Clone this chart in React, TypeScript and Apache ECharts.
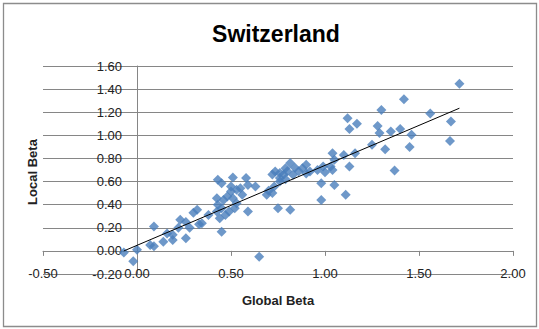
import React, { useEffect, useRef } from "react";
import * as echarts from "echarts";

const TITLE = "Switzerland";
const X_NAME = "Global Beta";
const Y_NAME = "Local Beta";

const GLOBAL_BETA = [
  -0.07, -0.02, 0.0, 0.09, 0.07, 0.09, 0.14, 0.19, 0.19, 0.16, 0.22, 0.23, 0.26, 0.26, 0.28, 0.3, 0.32, 0.345, 0.33, 0.38, 0.45,
  0.43, 0.45, 0.51, 0.58, 0.59, 0.55, 0.5, 0.48, 0.46, 0.51, 0.43, 0.45, 0.52, 0.47, 0.44, 0.59, 0.5, 0.56, 0.53, 0.425, 0.49, 0.425, 0.53, 0.63,
  0.65, 0.69, 0.7, 0.72, 0.73, 0.75, 0.815, 0.735, 0.72, 0.76, 0.76, 0.79, 0.815, 0.83, 0.78, 0.8, 0.84, 0.86, 0.76, 0.79,
  0.88, 0.9, 0.9, 0.92, 0.96, 0.99, 1.0, 1.03, 1.04, 1.05, 1.04, 1.1, 1.16, 1.13, 0.98, 1.05, 0.98, 1.11,
  1.12, 1.13, 1.17, 1.3, 1.42, 1.28, 1.29, 1.35, 1.4, 1.46, 1.45, 1.32, 1.25, 1.37, 1.56, 1.715, 1.67, 1.665,
];
const LOCAL_BETA = [
  -0.015, -0.09, 0.01, 0.21, 0.05, 0.04, 0.08, 0.095, 0.14, 0.15, 0.2, 0.27, 0.25, 0.11, 0.2, 0.33, 0.355, 0.24, 0.23, 0.31, 0.165,
  0.615, 0.586, 0.635, 0.63, 0.571, 0.543, 0.513, 0.47, 0.44, 0.456, 0.4, 0.37, 0.37, 0.31, 0.283, 0.34, 0.557, 0.485, 0.413, 0.34, 0.34, 0.456, 0.53, 0.557,
  -0.05, 0.485, 0.52, 0.5, 0.557, 0.37, 0.355, 0.687, 0.66, 0.63, 0.673, 0.716, 0.76, 0.658, 0.66, 0.69, 0.72, 0.69, 0.6, 0.62,
  0.716, 0.745, 0.67, 0.687, 0.7, 0.73, 0.68, 0.73, 0.7, 0.788, 0.846, 0.83, 0.846, 0.73, 0.586, 0.571, 0.44, 0.485,
  1.147, 1.054, 1.1, 1.22, 1.313, 1.08, 1.02, 1.033, 1.054, 1.004, 0.9, 0.88, 0.918, 0.695, 1.19, 1.446, 1.12, 0.952,
];

// Linear trendline
const TREND_INTERCEPT = 0.048;
const TREND_SLOPE = 0.692;

const X_MIN = -0.5;
const X_MAX = 2.0;
const X_STEP = 0.5;
const Y_MIN = -0.2;
const Y_MAX = 1.6;
const Y_STEP = 0.2;

const FONT = "'Liberation Sans', Arial, sans-serif";

export default function App() {
  const ref = useRef<HTMLDivElement>(null);

  useEffect(() => {
    if (!ref.current) return;
    const chart = echarts.init(ref.current, null, { renderer: "svg" });
    const points = GLOBAL_BETA.map((x, i) => [x, LOCAL_BETA[i]]);
    const tMin = Math.min(...GLOBAL_BETA);
    const tMax = Math.max(...GLOBAL_BETA);
    const trend = [
      [tMin, TREND_INTERCEPT + TREND_SLOPE * tMin],
      [tMax, TREND_INTERCEPT + TREND_SLOPE * tMax],
    ];

    chart.setOption({
      animation: false,
      backgroundColor: "#ffffff",
      title: {
        text: TITLE,
        left: 271,
        textAlign: "center",
        top: 17,
        textStyle: { fontFamily: FONT, fontWeight: "bold", fontSize: 23, color: "#000" },
      },
      grid: { left: 43, top: 66, width: 470, height: 208, containLabel: false },
      xAxis: {
        type: "value",
        min: X_MIN,
        max: X_MAX,
        interval: X_STEP,
        axisLine: { onZero: true, lineStyle: { color: "#868686", width: 1 } },
        axisTick: { show: true, length: 5, lineStyle: { color: "#868686" } },
        splitLine: { show: false },
        axisLabel: {
          showMinLabel: true,
          showMaxLabel: true,
          margin: -7,
          fontFamily: FONT,
          fontSize: 13,
          color: "#222",
          formatter: (v: number) => v.toFixed(2),
        },
      },
      yAxis: {
        type: "value",
        min: Y_MIN,
        max: Y_MAX,
        interval: Y_STEP,
        axisLine: { show: true, onZero: true, lineStyle: { color: "#868686", width: 1 } },
        axisTick: { show: false },
        splitLine: { show: true, lineStyle: { color: "#868686", width: 1 } },
        axisLabel: {
          showMinLabel: true,
          showMaxLabel: true,
          margin: -79,
          fontFamily: FONT,
          fontSize: 13,
          color: "#222",
          formatter: (v: number) => v.toFixed(2),
        },
      },
      graphic: [
        {
          type: "rect",
          shape: { x: 3.5, y: 3.5, width: 533, height: 323 },
          style: { fill: "none", stroke: "#8c8c8c", lineWidth: 1.3 },
          silent: true,
        },
        {
          type: "text",
          x: 278,
          y: 300,
          style: {
            text: X_NAME,
            fontFamily: FONT,
            fontWeight: "bold",
            fontSize: 13,
            fill: "#222",
            textAlign: "center",
            textVerticalAlign: "middle",
          },
        },
        {
          type: "text",
          x: 32,
          y: 172,
          rotation: Math.PI / 2,
          style: {
            text: Y_NAME,
            fontFamily: FONT,
            fontWeight: "bold",
            fontSize: 13,
            fill: "#222",
            textAlign: "center",
            textVerticalAlign: "middle",
          },
        },
      ],
      series: [
        {
          type: "scatter",
          data: points,
          symbol: "diamond",
          symbolSize: 10,
          itemStyle: { color: "#4a7ebb" },
          z: 2,
        },
        {
          type: "line",
          data: trend,
          symbol: "none",
          lineStyle: { color: "#000", width: 1 },
          z: 3,
        },
      ],
    });
    return () => chart.dispose();
  }, []);

  return (
    <div
      ref={ref}
      style={{ position: "fixed", left: 0, top: 0, width: 539, height: 329, background: "#fff" }}
    />
  );
}
